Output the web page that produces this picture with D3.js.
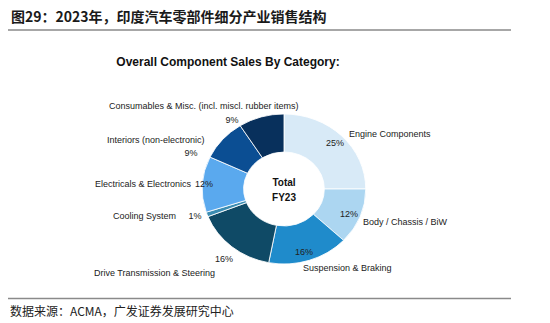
<!DOCTYPE html>
<html>
<head>
<meta charset="utf-8">
<script src="https://d3js.org/d3.v7.min.js"></script>
<style>
  body { margin: 0; background: #fff; }
  svg { display: block; }
</style>
</head>
<body>
<div id="chart"></div>
<script>
var categories = ["Engine Components", "Body / Chassis / BiW", "Suspension & Braking",
  "Drive Transmission & Steering", "Cooling System", "Electricals & Electronics",
  "Interiors (non-electronic)", "Consumables & Misc. (incl. miscl. rubber items)"];
var shares = [25, 12, 16, 16, 1, 12, 9, 9];
var colors = ["#d8eaf7", "#acd6f1", "#1f8bcb", "#0f4a66", "#3b8db3", "#5aa9ee", "#0b4e93", "#08305c"];

// label anchors: [name x, name y, pct x, pct y]
var labelPos = [
  [349, 137, 335, 146],
  [363, 225, 349, 217],
  [303, 271, 304, 255],
  [94, 276, 224, 262],
  [113, 219, 195, 219],
  [95, 187, 204, 187],
  [107, 143, 191, 156],
  [109, 109, 232, 123]
];

var width = 550, height = 323;
var svg = d3.select("#chart").append("svg")
  .attr("width", width).attr("height", height);

// header
svg.append("text")
  .attr("x", 11).attr("y", 22)
  .style("font-family", "'Noto Sans CJK SC', sans-serif")
  .style("font-size", "14px").style("font-weight", "bold")
  .style("fill", "#1a1a1a")
  .text("图29：2023年，印度汽车零部件细分产业销售结构");
svg.append("line").attr("x1", 8).attr("x2", 511).attr("y1", 30).attr("y2", 30)
  .style("stroke", "#8a8a8a").style("stroke-width", 1.5);

// footer
svg.append("line").attr("x1", 8).attr("x2", 511).attr("y1", 298.5).attr("y2", 298.5)
  .style("stroke", "#8a8a8a").style("stroke-width", 1.5);
svg.append("text")
  .attr("x", 10).attr("y", 316)
  .style("font-family", "'Noto Sans CJK SC', sans-serif")
  .style("font-size", "12px").style("fill", "#222")
  .text("数据来源：ACMA，广发证券发展研究中心");

// chart title
svg.append("text")
  .attr("x", 228).attr("y", 66)
  .attr("text-anchor", "middle")
  .style("font-family", "'Liberation Sans', Arial, sans-serif")
  .style("font-size", "12px").style("font-weight", "bold")
  .style("fill", "#111")
  .text("Overall Component Sales By Category:");

var pie = d3.pie().sort(null).value(function(d) { return d; });
var arc = d3.arc().innerRadius(37).outerRadius(75);

var g = svg.append("g")
  .attr("transform", "translate(284,189) scale(1.09,1)");

g.selectAll("path")
  .data(pie(shares))
  .enter().append("path")
    .attr("d", arc)
    .style("fill", function(d, i) { return colors[i]; })
    .style("stroke", "#fff")
    .style("stroke-width", 0.8);

svg.append("text").attr("x", 284).attr("y", 186)
  .attr("text-anchor", "middle")
  .style("font-family", "'Liberation Sans', Arial, sans-serif")
  .style("font-size", "10px").style("font-weight", "bold").style("fill", "#111")
  .text("Total");
svg.append("text").attr("x", 284).attr("y", 201)
  .attr("text-anchor", "middle")
  .style("font-family", "'Liberation Sans', Arial, sans-serif")
  .style("font-size", "10px").style("font-weight", "bold").style("fill", "#111")
  .text("FY23");

var labels = svg.append("g")
  .style("font-family", "'Liberation Sans', Arial, sans-serif")
  .style("font-size", "9px").style("fill", "#222");

labels.selectAll("text.name")
  .data(categories)
  .enter().append("text")
    .attr("class", "name")
    .attr("x", function(d, i) { return labelPos[i][0]; })
    .attr("y", function(d, i) { return labelPos[i][1]; })
    .text(function(d) { return d; });

labels.selectAll("text.pct")
  .data(shares)
  .enter().append("text")
    .attr("class", "pct")
    .attr("text-anchor", "middle")
    .attr("x", function(d, i) { return labelPos[i][2]; })
    .attr("y", function(d, i) { return labelPos[i][3]; })
    .text(function(d) { return d + "%"; });
</script>
</body>
</html>
